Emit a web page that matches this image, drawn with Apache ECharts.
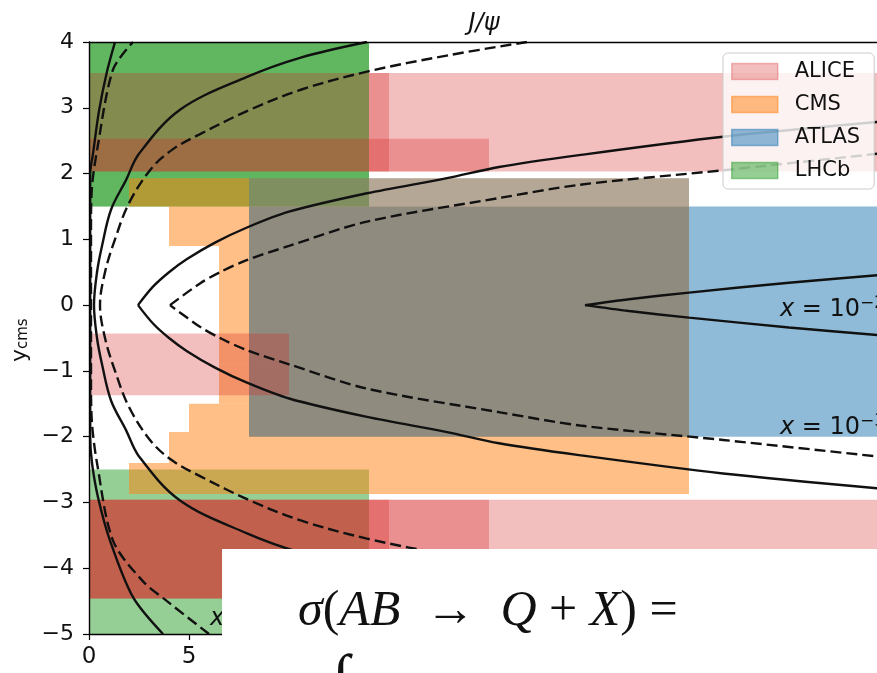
<!DOCTYPE html>
<html>
<head>
<meta charset="utf-8">
<script src="https://cdn.jsdelivr.net/npm/echarts@6/dist/echarts.min.js"></script>
<style>
  html, body { margin: 0; padding: 0; background: #ffffff; }
  #chart { width: 877px; height: 673px; }
</style>
</head>
<body>
<div id="chart"></div>
<script>
// Kinematic coverage of J/psi measurements in p-Pb collisions.
// Every box is [pT min, pT max, y_cms min, y_cms max] (pT in GeV).
const lhcbBoxes = [
  [0, 14, 1.5, 4.0],
  [0, 14, 1.5, 4.0],
  [0, 14, -5.0, -2.5]
];
const cmsBoxes = [
  [2, 30, 1.5, 1.93],
  [4, 30, 0.9, 1.5],
  [6.5, 30, 0.0, 0.9],
  [6.5, 30, -0.9, 0.0],
  [6.5, 30, -1.5, -0.9],
  [5, 30, -1.93, -1.5],
  [4, 30, -2.4, -1.93],
  [2, 30, -2.87, -2.4],
  [8, 30, -2.0, 1.5]
];
const atlasBoxes = [
  [8, 40, -2.0, 1.5]
];
const atlasUpperBoxes = [
  [8, 30, 1.5, 1.93]
];
const aliceBoxes = [
  [0, 15, 2.03, 3.53],
  [14, 40, 2.03, 3.53],
  [0, 20, 2.03, 2.53],
  [0, 15, -4.46, -2.96],
  [0, 40, -4.46, -2.96],
  [0, 20, -4.46, -2.96],
  [0, 10, -1.37, -0.43]
];

// Lines of constant x in the (pT, y_cms) plane, listed as [pT, y_cms]
const curveSolidInner = [
  [40, -0.47], [35, -0.34], [30, -0.19], [27, -0.09], [24.8, 0],
  [27, 0.09], [30, 0.19], [35, 0.34], [40, 0.47]
];
const curveSolidMid = [
  [40, -2.8], [31.7, -2.56], [24.5, -2.28], [20.5, -2.1], [17.9, -1.93], [13.9, -1.7], [10, -1.42],
  [7.9, -1.18], [6.3, -0.95], [4.9, -0.7], [4.0, -0.5], [3.2, -0.28], [2.45, 0],
  [3.2, 0.28], [4.0, 0.5], [4.9, 0.7], [6.3, 0.95], [7.9, 1.18], [10, 1.42],
  [13.9, 1.7], [17.9, 1.93], [20.5, 2.1], [24.5, 2.28], [31.7, 2.56], [40, 2.8]
];
const curveDashedMid = [
  [40, -2.32], [31.7, -2.05], [24.55, -1.83], [20.55, -1.63], [13.9, -1.27], [10, -0.9],
  [7.85, -0.68], [6.55, -0.5], [5.55, -0.33], [4.05, 0],
  [5.55, 0.33], [6.55, 0.5], [7.85, 0.68], [10, 0.9], [13.9, 1.27], [20.55, 1.63],
  [24.55, 1.83], [31.7, 2.05], [40, 2.32]
];
const curveSolidOuter = [
  [13.9, -4.0], [10.55, -3.76], [7.9, -3.47], [4.55, -2.97], [2.5, -2.3], [1.85, -1.9],
  [1.1, -1.45], [0.65, -0.9], [0.4, -0.5], [0.25, 0],
  [0.4, 0.5], [0.65, 0.9], [1.1, 1.45], [1.85, 1.9], [2.5, 2.3],
  [4.55, 2.97], [7.9, 3.47], [10.55, 3.76], [13.9, 4.0]
];
const curveDashedOuter = [
  [21.9, -4.0], [18, -3.8], [13.9, -3.55], [10.55, -3.27], [8.05, -2.97], [5.55, -2.6],
  [4.15, -2.36], [3.1, -2.07], [2.0, -1.55], [1.3, -1.0], [0.8, -0.5], [0.55, 0],
  [0.8, 0.5], [1.3, 1.0], [2.0, 1.55], [3.1, 2.07], [4.15, 2.36],
  [5.55, 2.6], [8.05, 2.97], [10.55, 3.27], [13.9, 3.55], [18, 3.8], [21.9, 4.0]
];
const curveSolidNear = [
  [3.7, -5.0], [2.2, -4.44], [1.05, -3.58], [0.45, -2.92], [0.15, -2.4], [0.06, -2.0],
  [0.06, 2.0], [0.2, 2.3], [0.5, 2.95], [0.9, 3.55], [1.3, 4.0]
];
const curveDashedNear = [
  [6.0, -5.0], [3.9, -4.5], [2.7, -4.2], [1.2, -3.58], [0.4, -2.4], [0.15, -1.8], [0.1, -1.2],
  [0.1, 1.2], [0.15, 1.8], [0.4, 2.35], [1.2, 3.58], [2.2, 4.0]
];

// Where the x labels sit: [pT, y_cms, exponent]
const xLabelSpots = [
  [34.55, -0.26, '−2'],
  [34.55, -2.05, '−3'],
  [6.05, -4.95, '−4']
];

const yTicks = [-5, -4, -3, -2, -1, 0, 1, 2, 3, 4];

const FONT = 'DejaVu Sans';
const colors = {
  ALICE: 'rgba(214,39,40,0.3)',
  CMS: 'rgba(255,127,14,0.5)',
  ATLAS: 'rgba(31,119,180,0.5)',
  ATLAS_LIGHT: 'rgba(31,119,180,0.33)',
  LHCb: 'rgba(44,160,44,0.5)'
};

function boxSeries(name, boxes, fill) {
  return {
    type: 'custom',
    name: name,
    silent: true,
    animation: false,
    itemStyle: { color: fill },
    data: boxes,
    renderItem: function (params, api) {
      const a = api.coord([api.value(0), api.value(3)]);
      const b = api.coord([api.value(1), api.value(2)]);
      const cs = params.coordSys;
      const shape = echarts.graphic.clipRectByRect(
        { x: a[0], y: a[1], width: b[0] - a[0], height: b[1] - a[1] },
        { x: cs.x, y: cs.y, width: cs.width, height: cs.height }
      );
      if (!shape) return null;
      return { type: 'rect', shape: shape, style: { fill: fill, stroke: null } };
    }
  };
}

function curveSeries(points, dashed, smooth) {
  return {
    type: 'line',
    data: points,
    showSymbol: false,
    silent: true,
    animation: false,
    clip: true,
    smooth: smooth || false,
    lineStyle: { color: '#111111', width: 2.4, type: dashed ? [11, 5] : 'solid' }
  };
}

// Curves with a sharp tip are drawn as two smooth branches that meet at the tip
function branchSeries(points, dashed) {
  let tip = 0;
  points.forEach((p, i) => { if (p[0] < points[tip][0]) tip = i; });
  return [
    curveSeries(points.slice(0, tip + 1), dashed, 0.3),
    curveSeries(points.slice(tip), dashed, 0.3)
  ];
}

const chart = echarts.init(document.getElementById('chart'), null, { renderer: 'canvas' });

const legendItem = (name, c) => ({
  name: name,
  icon: 'rect',
  itemStyle: { color: c, borderColor: c, borderWidth: 1.5 }
});

chart.setOption({
  animation: false,
  backgroundColor: '#ffffff',
  grid: { left: 89, top: 42, right: -12, bottom: 39, containLabel: false, outerBoundsMode: 'none' },
  xAxis: [
    {
      type: 'value', min: 0, max: 40, interval: 5, position: 'bottom', z: 5,
      axisLine: { show: true, onZero: false, lineStyle: { color: '#000', width: 1.4 } },
      axisTick: { show: true, length: 6, lineStyle: { color: '#000', width: 1.2 } },
      axisLabel: { fontFamily: FONT, fontSize: 23, color: '#111', margin: 12 },
      splitLine: { show: false }
    },
    {
      type: 'value', min: 0, max: 40, position: 'top', z: 5,
      axisLine: { show: true, onZero: false, lineStyle: { color: '#000', width: 1.4 } },
      axisTick: { show: false }, axisLabel: { show: false }, splitLine: { show: false }
    }
  ],
  yAxis: {
    type: 'value', min: yTicks[0], max: yTicks[yTicks.length - 1], interval: 1, z: 5,
    axisLine: { show: true, onZero: false, lineStyle: { color: '#000', width: 1.4 } },
    axisTick: { show: true, length: 6, lineStyle: { color: '#000', width: 1.2 } },
    axisLabel: {
      fontFamily: FONT, fontSize: 22, color: '#111', margin: 15,
      formatter: v => (v < 0 ? '\u2212' + Math.abs(v) : String(v))
    },
    splitLine: { show: false }
  },
  legend: {
    orient: 'vertical',
    left: 723, top: 53,
    itemWidth: 46, itemHeight: 16, itemGap: 12,
    padding: [8, 14, 8, 8],
    backgroundColor: 'rgba(255,255,255,0.8)',
    borderColor: '#cccccc', borderWidth: 1, borderRadius: 5,
    selectedMode: false,
    textStyle: { fontFamily: FONT, fontSize: 21, color: '#111', padding: [0, 0, 0, 12] },
    data: [
      legendItem('ALICE', colors.ALICE),
      legendItem('CMS', colors.CMS),
      legendItem('ATLAS', colors.ATLAS),
      legendItem('LHCb', colors.LHCb)
    ]
  },
  series: [
    boxSeries('LHCb', lhcbBoxes, colors.LHCb),
    boxSeries('CMS', cmsBoxes, colors.CMS),
    boxSeries('ATLAS', atlasBoxes, colors.ATLAS),
    boxSeries('ATLAS', atlasUpperBoxes, colors.ATLAS_LIGHT),
    boxSeries('ALICE', aliceBoxes, colors.ALICE)
  ].concat(
    branchSeries(curveSolidInner, false),
    branchSeries(curveSolidMid, false),
    branchSeries(curveDashedMid, true),
    [
      curveSeries(curveSolidOuter, false, 0.35),
      curveSeries(curveDashedOuter, true, 0.35),
      curveSeries(curveSolidNear, false, 0.3),
      curveSeries(curveDashedNear, true, 0.3)
    ]
  )
});

// Curve labels, title, axis name and the overlapping formula panel
const labelGraphics = xLabelSpots.map(s => {
  const p = chart.convertToPixel({ gridIndex: 0 }, [s[0], s[1]]);
  return {
    type: 'text', x: p[0], y: p[1], z: 50, silent: true,
    style: {
      text: '{i|x}{r| = 10}{s|' + s[2] + '}',
      verticalAlign: 'bottom', align: 'left',
      rich: {
        i: { fontFamily: FONT, fontStyle: 'italic', fontSize: 24, fill: '#111', verticalAlign: 'bottom' },
        r: { fontFamily: FONT, fontSize: 24, fill: '#111', verticalAlign: 'bottom' },
        s: { fontFamily: FONT, fontSize: 17, fill: '#111', verticalAlign: 'top', padding: [0, 0, 10, 0] }
      }
    }
  };
});

chart.setOption({
  graphic: labelGraphics.concat([
    {
      type: 'text', x: 484, y: 24, silent: true, z: 50,
      style: {
        text: 'J/ψ', font: 'italic 24px "DejaVu Sans"', fill: '#111',
        align: 'center', verticalAlign: 'middle'
      }
    },
    {
      type: 'group', x: 20, y: 362, rotation: Math.PI / 2, silent: true, z: 50,
      children: [
        { type: 'text', x: 0, y: 0, style: { text: 'y', font: '22px "DejaVu Sans"', fill: '#111', align: 'left', verticalAlign: 'middle' } },
        { type: 'text', x: 13, y: 3, style: { text: 'cms', font: '15px "DejaVu Sans"', fill: '#111', align: 'left', verticalAlign: 'middle' } }
      ]
    },
    {
      type: 'rect', z: 100, silent: true,
      shape: { x: 222, y: 549, width: 700, height: 160 },
      style: { fill: '#ffffff', stroke: null }
    },
    {
      type: 'text', x: 298, y: 612, z: 101, silent: true,
      style: {
        text: '{i|σ}{r|(}{i|AB}{r|  →  }{i|Q}{r|\u2005+ }{i|X}{r|) =}',
        align: 'left', verticalAlign: 'middle',
        rich: {
          i: { fontFamily: 'Liberation Serif', fontStyle: 'italic', fontSize: 50, fill: '#111' },
          r: { fontFamily: 'Liberation Serif', fontSize: 50, fill: '#111' }
        }
      }
    },
    {
      type: 'text', x: 332, y: 650, z: 101, silent: true,
      style: { text: '∫', font: '64px "Liberation Serif"', fill: '#111', align: 'left', verticalAlign: 'top' }
    }
  ])
});
</script>
</body>
</html>
